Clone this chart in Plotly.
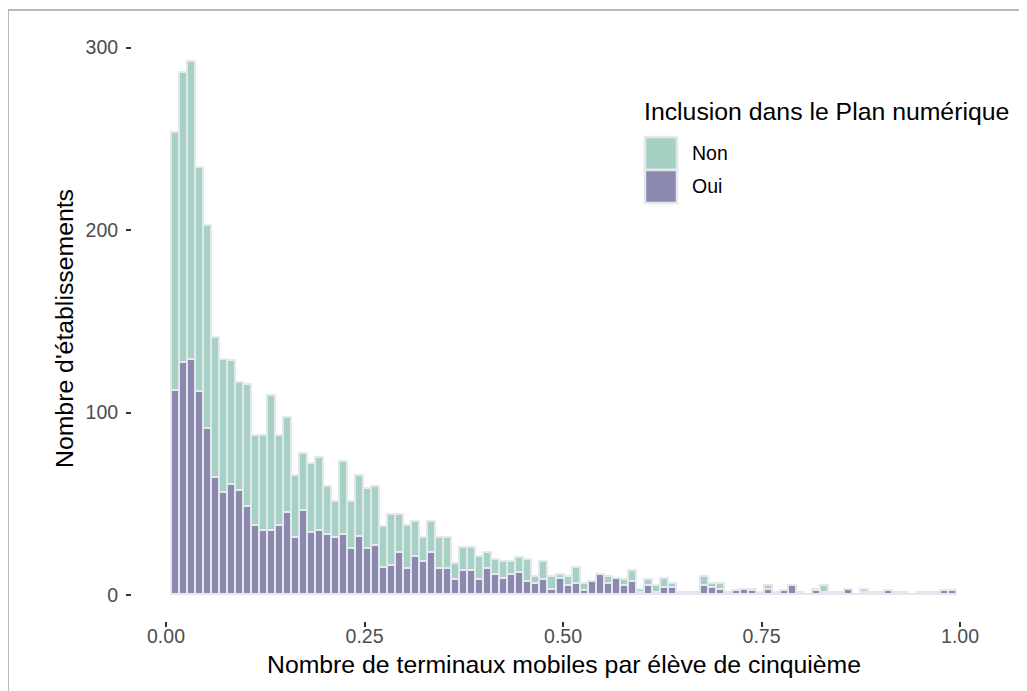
import plotly.graph_objects as go

# ---- data ----
bin_first_left = 0.007
bin_width = 0.0101
oui = [112, 127, 129, 111, 91, 64, 56, 60, 57, 48,
       38, 35, 35, 38, 45, 31, 46, 34, 35, 33,
       31, 33, 25, 32, 25, 27, 15, 16, 23, 14,
       21, 18, 23, 14, 14, 8, 13, 13, 8, 14,
       11, 9, 11, 12, 7, 6, 8, 3, 9, 5,
       6, 2, 7, 11, 6, 9, 5, 7, 1, 5,
       1, 4, 4, 0, 0, 1, 5, 4, 3, 1,
       2, 3, 2, 1, 3, 1, 2, 5, 1, 0,
       2, 1, 1, 1, 3, 0, 1, 1, 1, 2,
       1, 1, 0, 0, 1, 1, 2, 2]
non = [141, 159, 163, 123, 111, 77, 73, 68, 59, 67,
       49, 52, 74, 49, 52, 34, 31, 38, 40, 26,
       20, 40, 26, 33, 33, 32, 22, 28, 21, 24,
       19, 13, 17, 17, 17, 9, 13, 13, 13, 9,
       8, 9, 7, 8, 12, 4, 10, 7, 2, 5,
       9, 4, 0, 0, 4, 0, 3, 6, 2, 3,
       4, 5, 2, 1, 1, 0, 5, 2, 3, 0,
       0, 0, 1, 0, 2, 0, 0, 0, 0, 0,
       1, 4, 0, 0, 0, 0, 2, 0, 0, 0,
       0, 0, 0, 1, 0, 0, 0, 0]
bin_centers = [round(bin_first_left + bin_width * (i + 0.5), 5) for i in range(len(oui))]
x_ticks = [0.0, 0.25, 0.5, 0.75, 1.0]
x_tick_labels = ["0.00", "0.25", "0.50", "0.75", "1.00"]
y_ticks = [0, 100, 200, 300]
series_names = ["Non", "Oui"]

# ---- style ----
COL_NON = "#a5d1c5"
COL_OUI = "#8b89b0"
COL_EDGE = "#e4e7ec"
FONT = "Liberation Sans, Arial, sans-serif"
TITLE_SIZE = 24.8
TICK_SIZE = 19.5
OFF = 8  # page body margin
W, H = 1027 - OFF, 691 - OFF
ML, MR, MT, MB = 132 - OFF, 31, 36 - OFF, 70
PW, PH = W - ML - MR, H - MT - MB


def px_x(px):
    return (px - OFF - ML) / PW


def px_y(py):
    return (H - MB - (py - OFF)) / PH


fig = go.Figure()
fig.add_trace(go.Bar(x=bin_centers, y=oui, width=bin_width, name="Oui",
                     marker=dict(color=COL_OUI, line=dict(color=COL_EDGE, width=1.6)),
                     showlegend=False))
fig.add_trace(go.Bar(x=bin_centers, y=non, width=bin_width, name="Non",
                     marker=dict(color=COL_NON, line=dict(color=COL_EDGE, width=1.6)),
                     showlegend=False))

fig.update_layout(
    width=W, height=H,
    margin=dict(l=ML, r=MR, t=MT, b=MB, autoexpand=False),
    barmode="stack", bargap=0,
    plot_bgcolor="white", paper_bgcolor="white",
    font=dict(family=FONT, color="black"),
)
fig.update_xaxes(
    range=[-0.0428, 1.0453], tickvals=x_ticks, ticktext=x_tick_labels,
    showgrid=False, zeroline=False, showline=False,
    ticks="outside", ticklen=5, tickwidth=2, tickcolor="#333333",
    tickfont=dict(size=TICK_SIZE, color="#4d4d4d", family=FONT),
    ticklabelstandoff=-7,
    title=dict(text="Nombre de terminaux mobiles par élève de cinquième",
               font=dict(size=TITLE_SIZE, color="black", family=FONT), standoff=9),
    automargin=False,
)
fig.update_yaxes(
    range=[-14.25, 306.3], tickvals=y_ticks,
    showgrid=False, zeroline=False, showline=False,
    ticks="outside", ticklen=5, tickwidth=2, tickcolor="#333333",
    tickfont=dict(size=TICK_SIZE, color="#4d4d4d", family=FONT),
    ticklabelstandoff=4,
    title=dict(text="Nombre d'établissements",
               font=dict(size=TITLE_SIZE, color="black", family=FONT), standoff=4),
    automargin=False,
)

# outer frame
fig.add_shape(type="rect", xref="paper", yref="paper",
              x0=px_x(8), x1=px_x(1100), y0=px_y(760), y1=px_y(10),
              line=dict(color="#a3a3a3", width=1.5), fillcolor="rgba(0,0,0,0)", layer="above")

# legend (drawn to match ggplot style keys)
fig.add_annotation(xref="paper", yref="paper", x=px_x(642), y=px_y(112),
                   xanchor="left", yanchor="middle", showarrow=False,
                   text="Inclusion dans le Plan numérique",
                   font=dict(size=TITLE_SIZE, color="black", family=FONT))
key_rows = [(COL_NON, series_names[0], 137, 170), (COL_OUI, series_names[1], 170, 203)]
for col, lab, top, bot in key_rows:
    fig.add_shape(type="rect", xref="paper", yref="paper",
                  x0=px_x(645), x1=px_x(677), y0=px_y(bot), y1=px_y(top),
                  fillcolor=col, line=dict(color=COL_EDGE, width=2.5))
    fig.add_annotation(xref="paper", yref="paper", x=px_x(690), y=px_y((top + bot) / 2),
                       xanchor="left", yanchor="middle", showarrow=False, text=lab,
                       font=dict(size=TICK_SIZE, color="black", family=FONT))

fig.write_html("out.html")
